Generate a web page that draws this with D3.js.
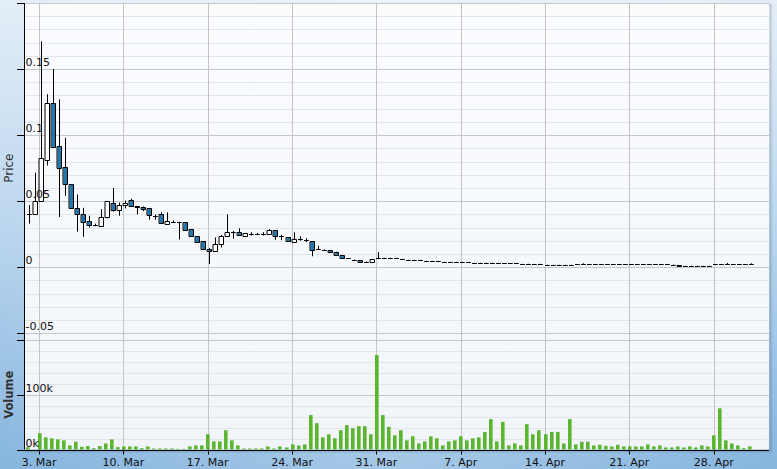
<!DOCTYPE html>
<html><head><meta charset="utf-8">
<script src="https://cdn.jsdelivr.net/npm/d3@7"></script>
<style>html,body{margin:0;padding:0;overflow:hidden;background:#fff}svg{display:block}</style>
</head><body>
<script>
// ---- data (12-hour candles, starting 2 Mar) ----
const startTime = Date.UTC(2014, 2, 2, 3);
const periodMs = 12 * 3600 * 1000;
const opens = [0.0402,0.040,0.050,0.081,0.124,0.092,0.076,0.063,0.045,0.040,0.035,0.032,0.031,0.038,0.049,0.043,0.047,0.051,0.046,0.0455,
0.0445,0.039,0.040,0.033,0.0345,0.034,0.034,0.029,0.0235,0.0195,0.014,0.012,0.0176,0.0234,0.027,0.027,0.024,0.0252,0.025,0.0255,
0.0251,0.0281,0.0234,0.0226,0.0188,0.0213,0.0206,0.0196,0.0138,0.0133,0.0130,0.0118,0.0093,0.0068,0.0057,0.0055,0.0042,0.0042,0.0072,0.0073,
0.0070,0.0068,0.0065,0.0057,0.0055,0.0053,0.0050,0.0048,0.0045,0.0043,0.0043,0.0040,0.0040,0.0038,0.0035,0.0035,0.0033,0.0033,0.0033,0.0030,
0.0030,0.0032,0.0025,0.0025,0.0024,0.0025,0.0020,0.0020,0.0020,0.0020,0.0020,0.0022,0.0025,0.0022,0.0022,0.0022,0.0022,0.0022,0.0022,0.0022,
0.0022,0.0022,0.0022,0.0022,0.0022,0.0022,0.0022,0.0020,0.0014,0.0013,0.0013,0.0013,0.0013,0.0013,0.0022,0.0022,0.0022,0.0022,0.0022,0.0022,
0.0022];
const highs = [0.047,0.0716,0.171,0.131,0.150,0.127,0.098,0.063,0.055,0.045,0.039,0.033,0.044,0.050,0.060,0.049,0.0505,0.052,0.046,0.046,
0.0445,0.040,0.0415,0.0415,0.0355,0.0345,0.034,0.029,0.0235,0.0195,0.0145,0.0225,0.0245,0.040,0.0275,0.0295,0.0256,0.0265,0.026,0.0265,
0.0289,0.0281,0.0245,0.0226,0.0264,0.0235,0.022,0.0196,0.0163,0.0135,0.0130,0.0118,0.0093,0.0070,0.0058,0.0055,0.0043,0.0063,0.0115,0.0074,
0.0071,0.0069,0.0066,0.0058,0.0056,0.0054,0.0051,0.0049,0.0046,0.0044,0.0044,0.0041,0.0041,0.0039,0.0036,0.0036,0.0034,0.0034,0.0034,0.0031,
0.0031,0.0033,0.0026,0.0026,0.0025,0.0026,0.0021,0.0021,0.0021,0.0021,0.0021,0.0023,0.0030,0.0023,0.0023,0.0023,0.0023,0.0023,0.0023,0.0023,
0.0023,0.0023,0.0023,0.0023,0.0023,0.0023,0.0023,0.0021,0.0015,0.0014,0.0014,0.0014,0.0014,0.0014,0.0023,0.0023,0.0032,0.0023,0.0023,0.0023,
0.0030];
const lows = [0.033,0.040,0.050,0.077,0.091,0.038,0.054,0.045,0.027,0.023,0.030,0.031,0.031,0.037,0.042,0.039,0.0445,0.046,0.040,0.0425,
0.036,0.036,0.033,0.033,0.0335,0.021,0.028,0.023,0.019,0.0135,0.0025,0.012,0.015,0.0234,0.0215,0.0245,0.024,0.024,0.0245,0.024,
0.0251,0.0208,0.0205,0.0196,0.0188,0.020,0.019,0.0083,0.0138,0.013,0.0113,0.0093,0.0068,0.0066,0.0055,0.0038,0.0040,0.0042,0.0065,0.0072,
0.0069,0.0067,0.0064,0.0056,0.0054,0.0052,0.0049,0.0047,0.0044,0.0042,0.0042,0.0039,0.0036,0.0036,0.0034,0.0034,0.0032,0.0032,0.0032,0.0029,
0.0029,0.0029,0.0024,0.0024,0.0023,0.0022,0.0019,0.0019,0.0019,0.0019,0.0019,0.0021,0.0021,0.0021,0.0021,0.0021,0.0021,0.0021,0.0021,0.0021,
0.0021,0.0021,0.0021,0.0021,0.0021,0.0021,0.0021,0.0013,0.0012,0.0012,0.0012,0.0012,0.0012,0.0012,0.0021,0.0021,0.0021,0.0021,0.0021,0.0021,
0.0021];
const closes = [0.0400,0.050,0.083,0.124,0.091,0.075,0.063,0.045,0.040,0.034,0.032,0.032,0.038,0.050,0.043,0.047,0.049,0.046,0.0455,0.044,
0.0395,0.039,0.0335,0.035,0.034,0.034,0.028,0.0235,0.019,0.014,0.012,0.0175,0.0234,0.027,0.0265,0.0245,0.0256,0.025,0.0251,0.0255,
0.0281,0.0234,0.0234,0.0196,0.0213,0.0213,0.0206,0.0133,0.0138,0.0133,0.0113,0.0093,0.0068,0.0068,0.0057,0.0038,0.0042,0.0063,0.0072,0.0073,
0.0070,0.0068,0.0065,0.0057,0.0055,0.0053,0.0050,0.0048,0.0045,0.0043,0.0043,0.0040,0.0037,0.0038,0.0035,0.0035,0.0033,0.0033,0.0033,0.0030,
0.0030,0.0029,0.0025,0.0025,0.0024,0.0022,0.0020,0.0020,0.0020,0.0020,0.0020,0.0022,0.0022,0.0022,0.0022,0.0022,0.0022,0.0022,0.0022,0.0022,
0.0022,0.0022,0.0022,0.0022,0.0022,0.0022,0.0022,0.0014,0.0013,0.0013,0.0013,0.0013,0.0013,0.0013,0.0022,0.0022,0.0022,0.0022,0.0022,0.0022,
0.0026];
const volumes = [4300,0,29600,22200,20400,18500,16700,7400,14200,4900,6200,2500,6200,11100,18500,4300,5600,5600,5600,2500,
5600,1900,1900,1900,1900,1200,1200,5600,7400,7400,27800,14800,14800,35200,16700,7400,1900,1900,1900,1900,
5600,1900,5600,3700,9300,7400,9300,62900,48100,22200,27800,20400,35200,44400,38900,42600,42600,27800,172800,62900,
41300,25900,35200,16700,24100,11100,14800,24100,20400,7400,14800,16700,24100,16700,20400,22200,32100,55500,14800,50600,
7400,11100,7400,46300,27800,35200,27800,32100,32100,11100,55500,9300,14200,14200,7400,8600,6800,5600,8600,5600,
5600,5600,5600,9300,5600,7400,3700,3700,5600,3700,5600,3700,7400,5600,25900,75300,16700,11100,7400,2500,
5600];
const priceTicks = [-0.05, 0, 0.05, 0.1, 0.15, 0.2];
const priceTickLabels = ["-0.05", "0", "0.05", "0.1", "0.15", ""];
const volumeTicks = [0, 100000, 200000];
const volumeTickLabels = ["0k", "100k", ""];

// ---- layout ----
const W = 777, H = 469;
const L = 24, R = 769, pTop = 3, pBot = 333.3, vTop = 340, vBot = 449.5;
const font = "DejaVu Sans, Verdana, sans-serif";

const svg = d3.select("body").append("svg").attr("width", W).attr("height", H);
const defs = svg.append("defs");
const bg = defs.append("linearGradient").attr("id", "bg").attr("x1", 0).attr("y1", 0).attr("x2", 0).attr("y2", 1);
bg.append("stop").attr("offset", 0).attr("stop-color", "#e4eef8");
bg.append("stop").attr("offset", 0.5).attr("stop-color", "#b9d5ee");
bg.append("stop").attr("offset", 1).attr("stop-color", "#86b5de");
const bgx = defs.append("linearGradient").attr("id", "bgx").attr("x1", 0).attr("y1", 0).attr("x2", 1).attr("y2", 0);
bgx.append("stop").attr("offset", 0).attr("stop-color", "#ffffff").attr("stop-opacity", 0);
bgx.append("stop").attr("offset", 0.5).attr("stop-color", "#ffffff").attr("stop-opacity", 0.25);
bgx.append("stop").attr("offset", 1).attr("stop-color", "#ffffff").attr("stop-opacity", 0);
const pg = defs.append("linearGradient").attr("id", "pg").attr("x1", 0).attr("y1", 0).attr("x2", 0).attr("y2", 1);
pg.append("stop").attr("offset", 0).attr("stop-color", "#fbfcfe");
pg.append("stop").attr("offset", 1).attr("stop-color", "#f1f5fa");

svg.append("rect").attr("width", W).attr("height", H).attr("fill", "url(#bg)");
svg.append("rect").attr("width", W).attr("height", H).attr("fill", "url(#bgx)");

// plot shadow
[[3, 0.06], [2, 0.1], [1, 0.16]].forEach(([o, a]) => {
  svg.append("rect").attr("x", L + o).attr("y", pTop + o).attr("width", R - L).attr("height", vBot - pTop)
    .attr("fill", "none").attr("stroke", "#000").attr("stroke-opacity", a).attr("stroke-width", 1);
});
svg.append("rect").attr("x", L).attr("y", pTop).attr("width", R - L).attr("height", vBot - pTop).attr("fill", "url(#pg)");

// ---- scales ----
const x = d3.scaleUtc().domain([Date.UTC(2014, 2, 1, 18), Date.UTC(2014, 4, 2, 14, 14)]).range([L, R]);
const yP = d3.scaleLinear().domain([-0.05, 0.2]).range([pBot, pTop]);
const yV = d3.scaleLinear().domain([0, 200000]).range([vBot, vTop]);
const times = opens.map((_, i) => new Date(startTime + i * periodMs));
const crisp = v => Math.round(v) + 0.5;

const g = svg.append("g");
// minor grid
const minorP = d3.range(-0.05, 0.2001, 0.01).map(v => +v.toFixed(3)).filter(v => !priceTicks.some(t => Math.abs(t - v) < 1e-6));
g.selectAll(".mp").data(minorP).join("line").attr("x1", L).attr("x2", R)
  .attr("y1", d => crisp(yP(d))).attr("y2", d => crisp(yP(d))).attr("stroke", "#e2e5e9");
const minorV = d3.range(20000, 200000, 20000).filter(v => !volumeTicks.includes(v));
g.selectAll(".mv").data(minorV).join("line").attr("x1", L).attr("x2", R)
  .attr("y1", d => crisp(yV(d))).attr("y2", d => crisp(yV(d))).attr("stroke", "#e2e5e9");
// major grid
g.selectAll(".gp").data(priceTicks).join("line").attr("x1", L).attr("x2", R)
  .attr("y1", d => crisp(yP(d))).attr("y2", d => crisp(yP(d))).attr("stroke", "#c4c7cb");
g.selectAll(".gv").data(volumeTicks).join("line").attr("x1", L).attr("x2", R)
  .attr("y1", d => crisp(yV(d))).attr("y2", d => crisp(yV(d))).attr("stroke", "#c4c7cb");
// vertical grid
const weekTicks = x.ticks(d3.utcMonday.every(1));
g.selectAll(".gx").data(weekTicks).join("line").attr("y1", pTop).attr("y2", vBot)
  .attr("x1", d => crisp(x(d))).attr("x2", d => crisp(x(d))).attr("stroke", "#c4c4c4");

// ---- volume bars ----
svg.append("g").selectAll("rect").data(volumes).join("rect")
  .attr("x", (d, i) => Math.round(x(times[i]) - 3))
  .attr("width", 3.6)
  .attr("y", d => yV(d))
  .attr("height", d => vBot - yV(d))
  .attr("fill", "#5cb531");

// ---- candles ----
const cg = svg.append("g");
opens.forEach((o, i) => {
  const cx = x(times[i]);
  const c = closes[i];
  const rx = Math.round(cx);
  const wx = rx + 0.5;
  cg.append("line").attr("x1", wx).attr("x2", wx).attr("y1", yP(highs[i])).attr("y2", yP(lows[i]))
    .attr("stroke", "#000").attr("stroke-width", 1);
  const top = Math.round(yP(Math.max(o, c))) + 0.5;
  const bot = Math.round(yP(Math.min(o, c))) + 0.5;
  const x0 = rx - 1.5, x1 = rx + 2.5;
  cg.append("path")
    .attr("d", `M${x0},${top}H${x1}V${bot}H${x0}Z`)
    .attr("fill", c < o ? "#1e78ad" : "#ffffff")
    .attr("stroke", "#000").attr("stroke-width", 1).attr("stroke-linecap", "square");
});

// ---- axes ----
const ax = svg.append("g");
ax.append("line").attr("x1", L + 0.5).attr("x2", L + 0.5).attr("y1", pTop).attr("y2", vBot).attr("stroke", "#000");
ax.append("line").attr("x1", L).attr("x2", R).attr("y1", crisp(vBot)).attr("y2", crisp(vBot)).attr("stroke", "#000");
ax.selectAll(".tp").data(priceTicks).join("line").attr("x1", L - 7).attr("x2", L)
  .attr("y1", d => crisp(yP(d))).attr("y2", d => crisp(yP(d))).attr("stroke", "#000");
ax.selectAll(".tv").data(volumeTicks).join("line").attr("x1", L - 7).attr("x2", L)
  .attr("y1", d => crisp(yV(d))).attr("y2", d => crisp(yV(d))).attr("stroke", "#000");
ax.selectAll(".tx").data(weekTicks).join("line").attr("y1", vBot).attr("y2", vBot + 5)
  .attr("x1", d => crisp(x(d))).attr("x2", d => crisp(x(d))).attr("stroke", "#000");

const txt = svg.append("g").attr("font-family", font).attr("font-size", 11).attr("fill", "#111");
txt.selectAll(".lp").data(priceTicks).join("text").attr("x", L + 1.5).attr("y", d => yP(d) - 3)
  .text((d, i) => priceTickLabels[i]);
txt.selectAll(".lv").data(volumeTicks).join("text").attr("x", L + 1.5).attr("y", d => yV(d) - 3)
  .text((d, i) => volumeTickLabels[i]);
const fmt = d3.utcFormat("%-d. %b");
txt.selectAll(".lx").data(weekTicks).join("text").attr("x", d => x(d)).attr("y", 466)
  .attr("text-anchor", "middle").text(d => fmt(d));

svg.append("text").attr("transform", `translate(12.5,${(pTop + pBot) / 2}) rotate(-90)`)
  .attr("text-anchor", "middle").attr("font-family", font).attr("font-size", 12).attr("fill", "#333").text("Price");
svg.append("text").attr("transform", `translate(12.5,${(vTop + vBot) / 2}) rotate(-90)`)
  .attr("text-anchor", "middle").attr("font-family", font).attr("font-size", 11.5).attr("font-weight", "bold").attr("fill", "#333").text("Volume");
</script>
</body></html>
